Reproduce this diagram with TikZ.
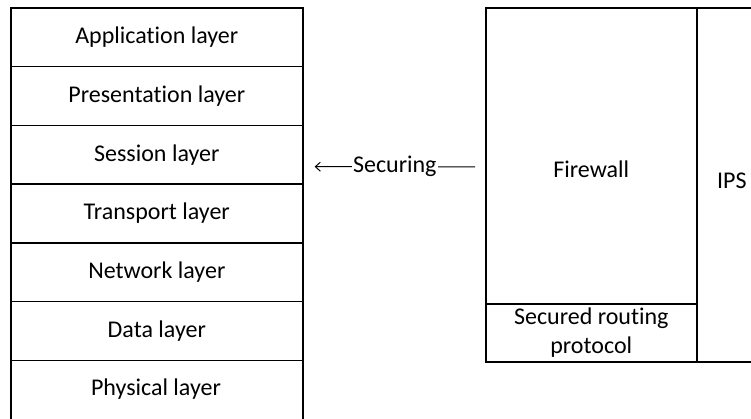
\documentclass[tikz,border=0pt]{standalone}
\usepackage{fontspec}
\setmainfont{Carlito}[Ligatures=NoCommon]
\usetikzlibrary{arrows.meta,calc}
\begin{document}
\begin{tikzpicture}[x=1pt,y=-1pt,
  box/.style={draw=black,line width=1.6pt,inner sep=0pt,font=\fontsize{24}{29}\selectfont,align=center},
  layer/.style={box,minimum width=292pt,minimum height=58.75pt,anchor=north west},
  lbl/.style={font=\fontsize{24}{29}\selectfont,fill=white,inner sep=1pt}]
\clip (0,0) rectangle (751,418);
\fill[white] (0,0) rectangle (751,418);
\node[layer] (l1) at (10,7) {Application layer};
\node[layer] (l2) at (10,65.75) {Presentation layer};
\node[layer] (l3) at (10,124.5) {Session layer};
\node[layer] (l4) at (10,183.25) {Transport layer};
\node[layer] (l5) at (10,242) {Network layer};
\node[layer] (l6) at (10,300.75) {Data layer};
\node[layer,minimum height=62pt] (l7) at (10,359.5) {};
\node[font=\fontsize{24}{29}\selectfont,inner sep=0pt] (t7) at (156,389) {Physical layer};
\node[box,minimum width=211pt,minimum height=296pt,anchor=north west] (fw) at (485,7) {};
\node[font=\fontsize{24}{29}\selectfont,inner sep=0pt] (fwt) at ($(fw.center)+(0,13)$) {Firewall};
\node[box,minimum width=211pt,minimum height=58pt,anchor=north west] (srp) at (485,303) {Secured routing\\protocol};
\node[box,minimum width=70pt,minimum height=354pt,anchor=north west] (ips) at (696,7) {};
\node[font=\fontsize{24}{29}\selectfont,inner sep=0pt] (ipst) at ($(ips.center)+(0,-4)$) {IPS};
\coordinate (aL) at ($(l3.east)+(11,12)$);
\coordinate (aR) at ($(fw.west)+(-10,11)$);
\draw[line width=1pt,{Straight Barb[length=5pt,width=9pt]}-] (aL) -- node[lbl] {Securing} (aR);
\end{tikzpicture}
\end{document}
